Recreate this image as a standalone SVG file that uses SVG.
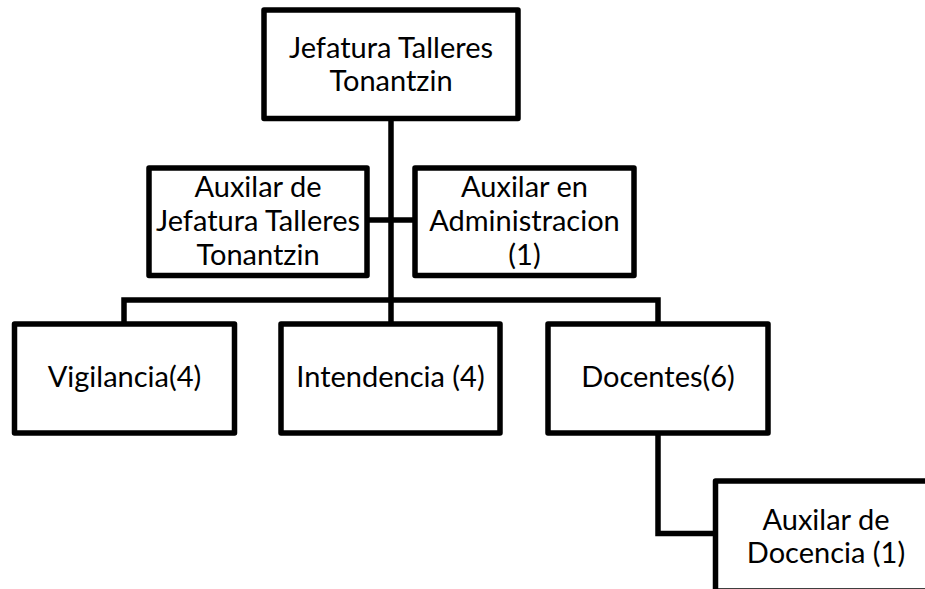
<svg xmlns="http://www.w3.org/2000/svg" width="925" height="589" viewBox="0 0 925 589">
<style>
.box{fill:#fff;stroke:#000;stroke-width:5.5;stroke-linejoin:round}
.ln{fill:none;stroke:#000;stroke-width:5.5;stroke-linejoin:miter}
text{font-family:Lato,"Open Sans",sans-serif;font-size:29px;fill:#000;text-anchor:middle}
</style>
<rect width="925" height="589" fill="#fff"/>
<g id="connectors">
<path class="ln" d="M391,118 V300"/>
<path class="ln" d="M367,220 H415"/>
<path class="ln" d="M124,324 V300 H658 V324"/>
<path class="ln" d="M391,300 V324"/>
<path class="ln" d="M658,433 V533.5 H715.5"/>
</g>
<g id="n-jefatura">
<rect class="box" x="264" y="10" width="254" height="108.5"/>
<text x="391" y="58">Jefatura Talleres</text>
<text x="391" y="91">Tonantzin</text>
</g>
<g id="n-aux-jefatura">
<rect class="box" x="149" y="168" width="218" height="107.5"/>
<text x="258" y="197">Auxilar de</text>
<text x="258" y="231">Jefatura Talleres</text>
<text x="258" y="265">Tonantzin</text>
</g>
<g id="n-aux-admin">
<rect class="box" x="415" y="168" width="219" height="107.5"/>
<text x="524.5" y="197">Auxilar en</text>
<text x="524.5" y="231">Administracion</text>
<text x="524.5" y="265">(1)</text>
</g>
<g id="n-vigilancia">
<rect class="box" x="14.5" y="324" width="220" height="109"/>
<text x="124.5" y="387">Vigilancia(4)</text>
</g>
<g id="n-intendencia">
<rect class="box" x="281" y="324" width="219" height="109"/>
<text x="390.5" y="387">Intendencia (4)</text>
</g>
<g id="n-docentes">
<rect class="box" x="548" y="324" width="220" height="109"/>
<text x="658" y="387">Docentes(6)</text>
</g>
<g id="n-aux-docencia">
<rect class="box" x="715.5" y="481" width="221" height="110"/>
<text x="826" y="530">Auxilar de</text>
<text x="826" y="563">Docencia (1)</text>
</g>
</svg>
